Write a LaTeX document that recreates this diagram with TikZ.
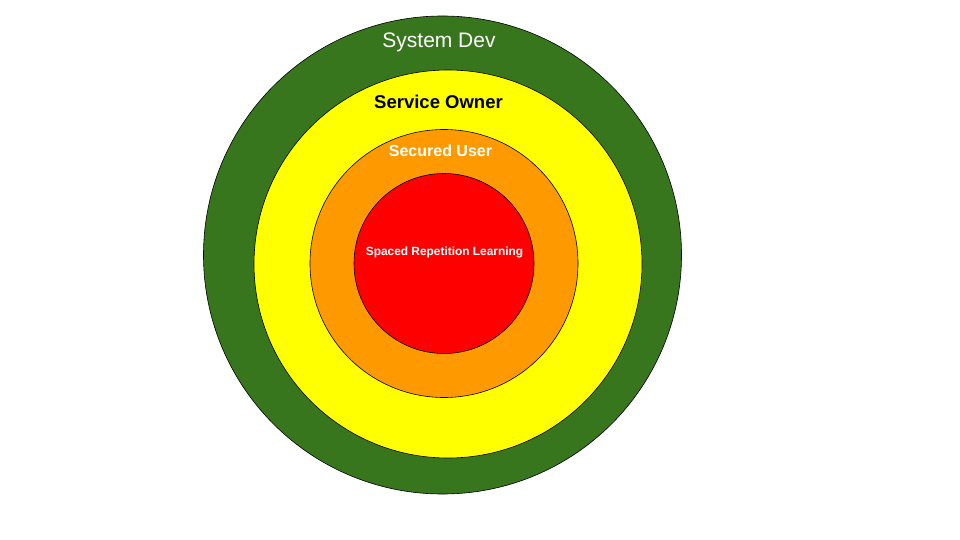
\documentclass[tikz,border=0pt]{standalone}
\usepackage{fontspec}
\setmainfont{Liberation Sans}
\definecolor{ringgreen}{HTML}{38761D}
\definecolor{ringyellow}{HTML}{FFFF00}
\definecolor{ringorange}{HTML}{FF9900}
\definecolor{ringred}{HTML}{FF0000}
\tikzset{
  ring/.style={circle, draw=black, line width=0.6pt, inner sep=0pt},
  lbl/.style={anchor=base, inner sep=0pt}
}
\begin{document}
\begin{tikzpicture}[x=1pt,y=-1pt]
\useasboundingbox (0,0) rectangle (960,540);
\node[ring, fill=ringgreen, minimum size=478pt] (dev) at (442.5,255) {};
\node[ring, fill=ringyellow, minimum size=388pt] (owner) at (448,264) {};
\node[ring, fill=ringorange, minimum size=268pt] (user) at (444,263.5) {};
\node[ring, fill=ringred, minimum size=180pt] (srl) at (444,263.5) {};
\node[lbl, text=white, font=\fontsize{21}{24}\selectfont] (tdev) at (439,48) {System Dev};
\node[lbl, text=black, font=\bfseries\fontsize{18.5}{22}\selectfont] (towner) at (438.5,109) {Service Owner};
\node[lbl, text=white, font=\bfseries\fontsize{16}{19}\selectfont] (tuser) at (440.5,157) {Secured User};
\node[lbl, text=white, font=\bfseries\fontsize{11.9}{14}\selectfont] (tsrl) at (444.5,255) {Spaced Repetition Learning};
\end{tikzpicture}
\end{document}
